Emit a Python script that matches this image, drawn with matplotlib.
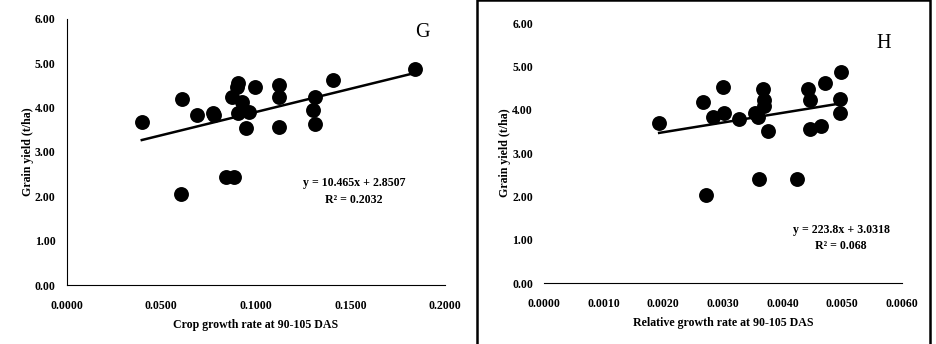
import matplotlib.pyplot as plt
from matplotlib.patches import Rectangle
import numpy as np

plt.rcParams['font.family'] = ['Liberation Serif', 'DejaVu Serif']

# panel G: crop growth rate vs grain yield
cgr = [0.0397, 0.0608, 0.0604, 0.0687, 0.0773, 0.0780, 0.0872, 0.0904, 0.0900,
       0.0925, 0.0906, 0.0964, 0.0946, 0.0842, 0.0884, 0.0996, 0.1124, 0.1124,
       0.1124, 0.1313, 0.1302, 0.1313, 0.1410, 0.1841]
cgr_yield = [3.68, 4.18, 2.04, 3.83, 3.88, 3.82, 4.24, 4.54, 4.45,
             4.13, 3.88, 3.90, 3.53, 2.43, 2.43, 4.47, 4.51, 4.23,
             3.57, 4.24, 3.94, 3.63, 4.62, 4.87]
cgr_slope, cgr_icept, cgr_r2 = 10.465, 2.8507, '0.2032'

# panel H: relative growth rate vs grain yield
rgr = [0.00193, 0.00266, 0.00284, 0.00301, 0.00300, 0.00327, 0.00354, 0.00359,
       0.00367, 0.00369, 0.00368, 0.00376, 0.00360, 0.00424, 0.00272, 0.00443,
       0.00446, 0.00446, 0.00464, 0.00471, 0.00498, 0.00496, 0.00496]
rgr_yield = [3.69, 4.17, 3.84, 3.92, 4.53, 3.78, 3.92, 3.84,
             4.47, 4.22, 4.08, 3.51, 2.40, 2.40, 2.03, 4.47,
             4.22, 3.55, 3.62, 4.62, 4.88, 4.24, 3.92]
rgr_slope, rgr_icept, rgr_r2 = 223.8, 3.0318, '0.068'

y_ticks = [0, 1, 2, 3, 4, 5, 6]

fig = plt.figure(figsize=(9.36, 3.44), dpi=100)
W, H = 936, 344


def px_axes(x0, y0, x1, y1):
    return fig.add_axes([x0 / W, 1 - y1 / H, (x1 - x0) / W, (y1 - y0) / H])


def panel(ax, x, y, slope, icept, r2, xticks, xlabel, letter, letter_xy, eq_xy, left_spine):
    ax.scatter(x, y, s=115, color='black', zorder=3, linewidths=0)
    xs = np.array([min(x), max(x)])
    ax.plot(xs, slope * xs + icept, color='black', lw=1.8, zorder=2)
    ax.set_xlim(xticks[0], xticks[-1])
    ax.set_ylim(0, 6)
    ax.set_xticks(xticks)
    ax.set_xticklabels(['%.4f' % t for t in xticks])
    ax.set_yticks(y_ticks)
    ax.set_yticklabels(['%.2f' % t for t in y_ticks])
    ax.tick_params(length=0, labelsize=8.5)
    ax.tick_params(axis='x', pad=11)
    ax.tick_params(axis='y', pad=8)
    for lab in ax.get_xticklabels() + ax.get_yticklabels():
        lab.set_fontweight('bold')
    ax.spines['top'].set_visible(False)
    ax.spines['right'].set_visible(False)
    ax.spines['left'].set_visible(left_spine)
    ax.set_xlabel(xlabel, fontsize=8.6, fontweight='bold', labelpad=5)
    ax.set_ylabel('Grain yield (t/ha)', fontsize=8.6, fontweight='bold', labelpad=0.5)
    ax.text(letter_xy[0], letter_xy[1], letter, transform=ax.transAxes,
            fontsize=14.5, ha='center', va='center')
    ax.text(eq_xy[0], eq_xy[1], 'y = %sx + %s' % (slope, icept), transform=ax.transAxes,
            fontsize=8.6, fontweight='bold', ha='center', va='center')
    ax.text(eq_xy[0], eq_xy[1] - 0.063, 'R² = %s' % r2, transform=ax.transAxes,
            fontsize=8.6, fontweight='bold', ha='center', va='center')


ax1 = px_axes(66.7, 18.7, 445, 285)
panel(ax1, cgr, cgr_yield, cgr_slope, cgr_icept, cgr_r2,
      [0, 0.05, 0.1, 0.15, 0.2], 'Crop growth rate at 90-105 DAS',
      'G', (0.94, 0.95), (0.76, 0.382), True)

ax2 = px_axes(544, 23, 902, 283)
panel(ax2, rgr, rgr_yield, rgr_slope, rgr_icept, rgr_r2,
      [0, 0.001, 0.002, 0.003, 0.004, 0.005, 0.006],
      'Relative growth rate at 90-105 DAS',
      'H', (0.95, 0.92), (0.83, 0.205), False)

fig.patches.append(Rectangle((477 / W, -0.05), (930 - 477) / W, 1.049,
                             transform=fig.transFigure, fill=False,
                             edgecolor='black', lw=1.8))

fig.savefig('out.png', dpi=100)
